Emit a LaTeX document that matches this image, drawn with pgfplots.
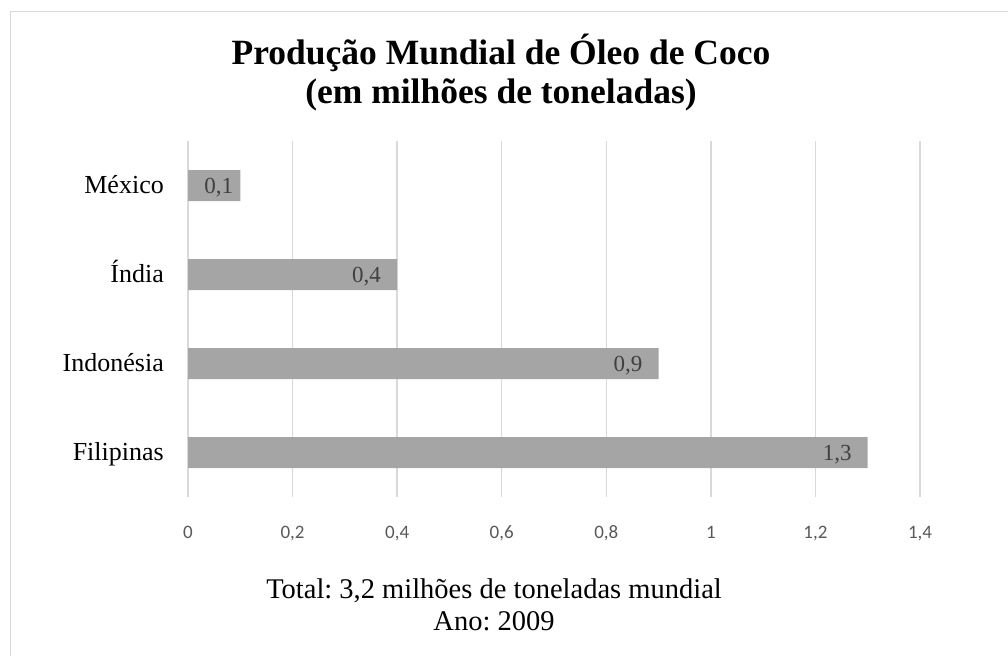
\documentclass[border=0pt]{standalone}
\usepackage{fontspec}
\setmainfont{Liberation Serif}
\newfontfamily\carlito{Carlito}
\usepackage{pgfplots}
\pgfplotsset{compat=1.18}
\definecolor{barc}{HTML}{A5A5A5}
\definecolor{gridc}{HTML}{D9D9D9}
\definecolor{tickc}{HTML}{595959}
\definecolor{labc}{HTML}{404040}
\frenchspacing
\begin{document}
\begin{tikzpicture}
\begin{scope}[x=1bp,y=-1bp]
\path[use as bounding box] (0,0) rectangle (1008,656);
\draw[gridc, line width=1.5bp] (10.5,11.5) rectangle (1030,680);
\node[anchor=base, inner sep=0pt, font=\fontsize{35.5bp}{40bp}\selectfont\bfseries] at (501,65) {Produção Mundial de Óleo de Coco};
\node[anchor=base, inner sep=0pt, font=\fontsize{35.5bp}{40bp}\selectfont\bfseries] at (501,104) {(em milhões de toneladas)};
\node[anchor=base, inner sep=0pt, font=\fontsize{28.5bp}{32bp}\selectfont] at (494,598) {Total: 3,2 milhões de toneladas mundial};
\node[anchor=base, inner sep=0pt, font=\fontsize{28.5bp}{32bp}\selectfont] at (494,630) {Ano: 2009};
\end{scope}
\begin{axis}[
  at={(188bp,-497bp)}, anchor=south west,
  scale only axis, width=732bp, height=356bp,
  xbar, bar width=31bp,
  xmin=0, xmax=1.4, ymin=-0.5, ymax=3.5,
  xtick={0,0.2,0.4,0.6,0.8,1,1.2,1.4},
  xticklabels={0,{0,2},{0,4},{0,6},{0,8},1,{1,2},{1,4}},
  ytick={0,1,2,3},
  yticklabels={Filipinas,Indonésia,Índia,México},
  xmajorgrids=true,
  major grid style={gridc, line width=1.5bp},
  axis line style={draw=none},
  major tick length=0pt,
  tick style={draw=none},
  xticklabel style={anchor=base, inner sep=0pt, yshift=-41bp, font=\carlito\fontsize{19bp}{22bp}\selectfont, text=tickc},
  yticklabel style={anchor=base east, inner sep=0pt, xshift=-24bp, yshift=-8bp, font=\fontsize{26bp}{29bp}\selectfont, text=black},
  nodes near coords,
  point meta=explicit symbolic,
  visualization depends on={x \as \xv},
  every node near coord/.append style={anchor=base east, inner sep=0pt, xshift={((\xv<0.2)*9-16)*1bp}, yshift=-8bp, font=\fontsize{23bp}{26bp}\selectfont, text=labc},
  clip=false,
]
\addplot[fill=barc, draw=none] coordinates {
  (1.3,0) [1,3]
  (0.9,1) [0,9]
  (0.4,2) [0,4]
  (0.1,3) [0,1]
};
\end{axis}
\end{tikzpicture}
\end{document}
